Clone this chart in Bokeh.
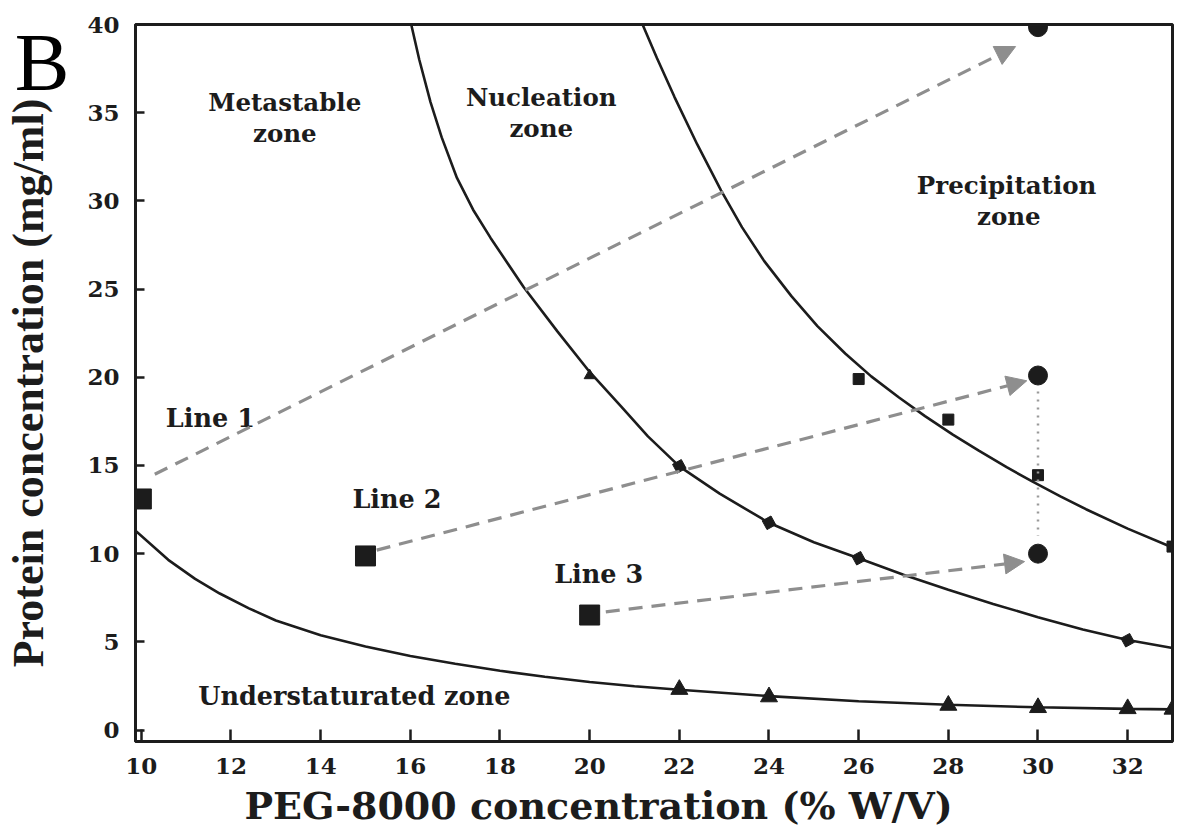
from bokeh.plotting import figure
from bokeh.models import (Range1d, Arrow, NormalHead, Title, ColumnDataSource,
                          FixedTicker, LinearAxis)
from bokeh.embed import file_html
from bokeh.resources import INLINE
from bokeh.core.properties import value

# ---------------- data ----------------
x_ticks = [10, 12, 14, 16, 18, 20, 22, 24, 26, 28, 30, 32]
y_ticks = [0, 5, 10, 15, 20, 25, 30, 35, 40]

# solubility curve (lower boundary)
sol_x = [9.87, 10.6, 11.2, 11.75, 12.4, 13.0, 14.0, 15.0, 16.0, 17.0, 18.0, 19.0, 20.0,
         21.0, 22.0, 24.0, 26.0, 28.0, 30.0, 32.0, 33.0]
sol_y = [11.3, 9.65, 8.57, 7.74, 6.9, 6.21, 5.38, 4.74, 4.2, 3.76, 3.36, 3.02, 2.72,
         2.48, 2.28, 1.92, 1.63, 1.43, 1.29, 1.2, 1.17]
sol_pts_x = [22, 24, 28, 30, 32, 33]
sol_pts_y = [2.3, 1.88, 1.4, 1.27, 1.21, 1.18]

# nucleation boundary (middle curve)
mid_x = [16.02, 16.2, 16.45, 16.7, 17.04, 17.4, 17.79, 18.53, 19.28, 20.0, 20.7, 21.3,
         22.0, 22.9, 24.0, 25.0, 26.0, 27.0, 28.0, 29.0, 30.0, 31.0, 32.0, 33.0]
mid_y = [40.0, 38.0, 35.6, 33.6, 31.3, 29.5, 27.9, 25.1, 22.6, 20.3, 18.35, 16.65,
         14.95, 13.4, 11.75, 10.65, 9.74, 8.8, 7.95, 7.15, 6.4, 5.7, 5.1, 4.65]
mid_tri_x = [20]
mid_tri_y = [20.1]
mid_pts_x = [22, 24, 26, 32]
mid_pts_y = [14.95, 11.75, 9.74, 5.09]

# precipitation boundary (upper curve)
up_x = [21.18, 21.5, 21.89, 22.4, 22.93, 23.4, 23.89, 24.5, 25.08, 25.7, 26.28, 26.9,
        27.48, 28.1, 28.67, 29.3, 29.87, 30.5, 31.07, 32.0, 33.0]
up_y = [40.0, 38.1, 35.9, 33.2, 30.6, 28.5, 26.6, 24.6, 22.9, 21.35, 20.05, 18.85,
        17.8, 16.75, 15.85, 14.9, 14.1, 13.25, 12.52, 11.42, 10.35]
up_pts_x = [26, 28, 30, 33]
up_pts_y = [19.9, 17.6, 14.45, 10.4]

# experiment lines: start squares, end circles, arrows
start_x = [10, 15, 20]
start_y = [13.1, 9.87, 6.52]
end_x = [30, 30, 30]
end_y = [39.85, 20.1, 10.0]
arrow_x0 = [10.3, 15.25, 20.36]
arrow_y0 = [14.5, 10.2, 6.7]
arrow_x1 = [29.5, 29.75, 29.7]
arrow_y1 = [38.75, 19.8, 9.55]
dot_x = [30, 30]
dot_y = [19.2, 11.0]

# ---------------- styles ----------------
SERIF_B = value("DejaVu Serif")
INK = "#1c1c1c"
GREY = "#8e8e8e"

p = figure(frame_width=1037, frame_height=717,
           x_range=Range1d(9.87, 33.0), y_range=Range1d(-0.65, 40.0),
           output_backend="svg", toolbar_location=None,
           min_border_left=134, min_border_top=24, min_border_right=6,
           min_border_bottom=30, background_fill_color="white",
           border_fill_color="white")
p.grid.visible = False
p.outline_line_color = INK
p.outline_line_width = 3

for ax in (p.xaxis[0], p.yaxis[0]):
    ax.axis_line_width = 3
    ax.axis_line_color = INK
    ax.major_tick_line_width = 2.5
    ax.major_tick_line_color = INK
    ax.major_tick_out = 0
    ax.minor_tick_line_color = None
    ax.major_label_text_font = "DejaVu Serif"
    ax.major_label_text_font_style = "bold"
    ax.major_label_text_font_size = "23px"
    ax.major_label_text_color = INK

p.xaxis.ticker = FixedTicker(ticks=x_ticks)
p.yaxis.ticker = FixedTicker(ticks=y_ticks)
p.xaxis.major_tick_in = 12
p.yaxis.major_tick_in = 9
p.xaxis.major_label_standoff = 16
p.yaxis.major_label_standoff = 16

# outer left axis: carries the panel letter "B" and the y title
outer = LinearAxis(ticker=FixedTicker(ticks=[39.7]), major_label_overrides={39.7: "B"},
                   axis_line_color=None, major_tick_line_color=None,
                   minor_tick_line_color=None, major_tick_in=0, major_tick_out=0,
                   major_label_standoff=15, major_label_text_font="Liberation Serif",
                   major_label_text_font_size="82px", major_label_text_color="black",
                   axis_label="Protein concentration (mg/ml)",
                   axis_label_text_font="Liberation Serif",
                   axis_label_text_font_style="bold", axis_label_text_font_size="44px",
                   axis_label_text_color=INK, axis_label_standoff=-41)
p.add_layout(outer, "left")

p.add_layout(Title(text="PEG-8000 concentration (% W/V)", align="left", offset=109,
                   text_font="DejaVu Serif", text_font_style="bold",
                   text_font_size="38px", text_color=INK, standoff=8), "below")

# curves
for cx, cy in ((sol_x, sol_y), (mid_x, mid_y), (up_x, up_y)):
    p.line(cx, cy, line_color=INK, line_width=2.6)

# markers on curves
p.scatter(sol_pts_x, sol_pts_y, marker="triangle", size=17, fill_color=INK, line_color=INK)
p.scatter(mid_tri_x, mid_tri_y, marker="triangle", size=11, fill_color=INK, line_color=INK)
p.scatter(mid_pts_x, mid_pts_y, marker="square", size=10, angle=0.5,
          fill_color=INK, line_color=INK)
p.scatter(up_pts_x, up_pts_y, marker="square", size=11, fill_color=INK, line_color=INK)

# arrows (dashed grey)
asrc = ColumnDataSource(dict(x0=arrow_x0, y0=arrow_y0, x1=arrow_x1, y1=arrow_y1))
p.add_layout(Arrow(x_start="x0", y_start="y0", x_end="x1", y_end="y1", source=asrc,
                   line_color=GREY, line_width=3.2, line_dash="14 9",
                   end=NormalHead(size=20, fill_color=GREY, line_color=GREY, line_width=1)))

# dotted vertical connection
p.line(dot_x, dot_y, line_color="#9a9a9a", line_width=2.5, line_dash="2 6")

# start squares and end circles
p.scatter(start_x, start_y, marker="square", size=20, fill_color=INK, line_color=INK)
p.scatter(end_x, end_y, marker="circle", size=19, fill_color=INK, line_color=INK)

# zone labels
def lab(x, y, t, size="24.5px"):
    p.text(x=[x], y=[y], text=[t], text_font=SERIF_B, text_font_style="bold",
           text_font_size=size, text_color=INK, text_align="center",
           text_baseline="alphabetic")

lab(13.2, 35.6, "Metastable")
lab(13.2, 33.8, "zone")
lab(18.92, 35.87, "Nucleation")
lab(18.92, 34.08, "zone")
lab(29.3, 30.87, "Precipitation")
lab(29.35, 29.1, "zone")
lab(11.54, 17.7, "Line 1", "25.5px")
lab(15.7, 13.1, "Line 2", "25.5px")
lab(20.2, 8.85, "Line 3", "25.5px")
lab(14.75, 1.92, "Understaturated zone", "25.5px")

open("out.html", "w").write(file_html(p, INLINE))
